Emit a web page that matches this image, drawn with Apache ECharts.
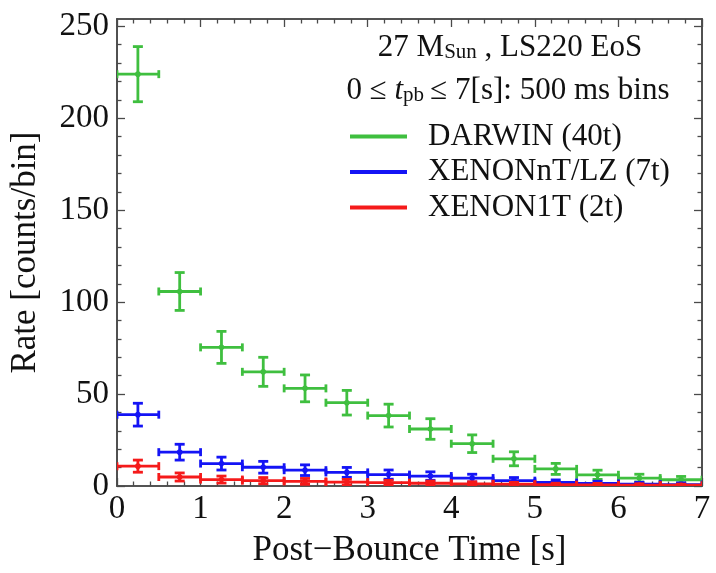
<!DOCTYPE html>
<html>
<head>
<meta charset="utf-8">
<script src="https://cdn.jsdelivr.net/npm/echarts@6/dist/echarts.min.js"></script>
<style>
html,body{margin:0;padding:0;background:#fff;}
#chart{width:716px;height:573px;}
</style>
</head>
<body>
<div id="chart"></div>
<script>
// ---- data ----
const binCenters = [0.25, 0.75, 1.25, 1.75, 2.25, 2.75, 3.25, 3.75, 4.25, 4.75, 5.25, 5.75, 6.25, 6.75];
const binHalfWidth = 0.25;
const darwin    = [224, 105.8, 75.4, 62.1, 53.1, 45.3, 38.3, 31, 23, 14.8, 9.3, 6.1, 4.3, 3.4];
const darwinErr = [15, 10.3, 8.7, 7.9, 7.3, 6.7, 6.2, 5.6, 4.8, 3.8, 3.0, 2.5, 2.1, 1.8];
const xenonnt    = [38.8, 18.4, 12.2, 10.2, 8.6, 7.4, 6.2, 5.4, 4.3, 2.9, 1.9, 1.4, 1.0, 0.8];
const xenonntErr = [6.2, 4.3, 3.5, 3.2, 2.9, 2.7, 2.5, 2.3, 2.1, 1.7, 1.4, 1.2, 1.0, 0.9];
const xenon1t    = [10.8, 4.9, 3.5, 2.9, 2.5, 2.1, 1.8, 1.5, 1.2, 1.0, 0.7, 0.6, 0.5, 0.4];
const xenon1tErr = [3.3, 2.2, 1.9, 1.7, 1.6, 1.5, 1.3, 1.2, 1.1, 1.0, 0.8, 0.8, 0.7, 0.6];
const seriesNames = ['DARWIN (40t)', 'XENONnT/LZ (7t)', 'XENON1T (2t)'];

const xMajorTicks = [0, 1, 2, 3, 4, 5, 6, 7];
const xMinorTicks = [0.2,0.4,0.6,0.8,1.2,1.4,1.6,1.8,2.2,2.4,2.6,2.8,3.2,3.4,3.6,3.8,4.2,4.4,4.6,4.8,5.2,5.4,5.6,5.8,6.2,6.4,6.6,6.8];
const yMajorTicks = [0, 50, 100, 150, 200, 250];
const yMinorTicks = [10,20,30,40,60,70,80,90,110,120,130,140,160,170,180,190,210,220,230,240];

// ---- style ----
const FONT = '"Liberation Serif", "Times New Roman", serif';
const FRAME = '#4a4a4a';
const colors = ['#3fbf3f', '#1414f5', '#f51a1a'];

function toData(vals, errs) {
  return binCenters.map((c, i) => [c, vals[i], errs[i]]);
}

function renderErrorBar(params, api) {
  const x = api.value(0), y = api.value(1), e = api.value(2);
  const pL = api.coord([x - binHalfWidth, y]);
  const pR = api.coord([x + binHalfWidth, y]);
  const pT = api.coord([x, y + e]);
  const pB = api.coord([x, y - e]);
  const pC = api.coord([x, y]);
  const col = api.visual('color');
  const st = {stroke: col, lineWidth: 2.8};
  const hc = 4, vc = 5;
  return {
    type: 'group',
    children: [
      {type: 'line', shape: {x1: pL[0], y1: pL[1], x2: pR[0], y2: pR[1]}, style: st},
      {type: 'line', shape: {x1: pT[0], y1: pT[1], x2: pB[0], y2: pB[1]}, style: st},
      {type: 'line', shape: {x1: pL[0], y1: pL[1] - hc, x2: pL[0], y2: pL[1] + hc}, style: st},
      {type: 'line', shape: {x1: pR[0], y1: pR[1] - hc, x2: pR[0], y2: pR[1] + hc}, style: st},
      {type: 'line', shape: {x1: pT[0] - vc, y1: pT[1], x2: pT[0] + vc, y2: pT[1]}, style: st},
      {type: 'line', shape: {x1: pB[0] - vc, y1: pB[1], x2: pB[0] + vc, y2: pB[1]}, style: st},
      {type: 'circle', shape: {cx: pC[0], cy: pC[1], r: 2.8}, style: {fill: col}}
    ]
  };
}

const chart = echarts.init(document.getElementById('chart'), null, {renderer: 'canvas'});

function xAx(pos, major, labels) {
  return {
    type: 'value', position: pos, min: 0, max: 7, interval: 1,
    axisLine: {show: true, onZero: false, lineStyle: {color: FRAME, width: 1.6}},
    axisTick: {show: true, inside: true, length: major ? 8 : 4.5,
      customValues: major ? xMajorTicks : xMinorTicks,
      lineStyle: {color: FRAME, width: 1.3}},
    axisLabel: {show: labels, customValues: xMajorTicks, margin: 7,
      fontFamily: FONT, fontSize: 33, color: '#111'},
    splitLine: {show: false},
    name: labels ? 'Post\u2212Bounce Time [s]' : '',
    nameLocation: 'middle', nameGap: 47,
    nameTextStyle: {fontFamily: FONT, fontSize: 35, color: '#111'}
  };
}
function yAx(pos, major, labels) {
  return {
    type: 'value', position: pos, min: 0, max: 254,
    axisLine: {show: true, onZero: false, lineStyle: {color: FRAME, width: 1.6}},
    axisTick: {show: true, inside: true, length: major ? 8 : 4.5,
      customValues: major ? yMajorTicks : yMinorTicks,
      lineStyle: {color: FRAME, width: 1.3}},
    axisLabel: {show: labels, customValues: yMajorTicks, margin: 8,
      fontFamily: FONT, fontSize: 33, color: '#111'},
    splitLine: {show: false},
    name: labels ? 'Rate [counts/bin]' : '',
    nameLocation: 'middle', nameGap: 74, nameRotate: 90,
    nameTextStyle: {fontFamily: FONT, fontSize: 35, color: '#111'}
  };
}

const option = {
  backgroundColor: '#ffffff',
  animation: false,
  grid: {left: 116, right: 14, top: 19, bottom: 86, containLabel: false},
  xAxis: [xAx('bottom', true, true), xAx('bottom', false, false), xAx('top', true, false), xAx('top', false, false)],
  yAxis: [yAx('left', true, true), yAx('left', false, false), yAx('right', true, false), yAx('right', false, false)],
  legend: {
    orient: 'vertical', left: 345, top: 116,
    itemWidth: 57, itemHeight: 4, itemGap: 4.5,
    icon: 'rect', selectedMode: false,
    data: seriesNames,
    textStyle: {fontFamily: FONT, fontSize: 31, lineHeight: 31, color: '#111', padding: [0, 0, 0, 16]}
  },
  graphic: [
    {type: 'text', x: 510, y: 47, style: {
      text: '{n|27 M}{s|Sun}{n| , LS220 EoS}',
      align: 'center', verticalAlign: 'middle',
      rich: {
        n: {fontFamily: FONT, fontSize: 31, lineHeight: 32, fill: '#111', verticalAlign: 'bottom'},
        s: {fontFamily: FONT, fontSize: 21, fill: '#111', verticalAlign: 'bottom'}
      }}},
    {type: 'text', x: 508, y: 90, style: {
      text: '{n|0 \u2264 }{i|t}{s|pb}{n|\u2009\u2264 7[s]: 500 ms bins}',
      align: 'center', verticalAlign: 'middle',
      rich: {
        n: {fontFamily: FONT, fontSize: 31, lineHeight: 32, fill: '#111', verticalAlign: 'bottom'},
        i: {fontFamily: FONT, fontSize: 31, lineHeight: 32, fontStyle: 'italic', fill: '#111', verticalAlign: 'bottom'},
        s: {fontFamily: FONT, fontSize: 21, fill: '#111', verticalAlign: 'bottom'}
      }}}
  ],
  series: [
    {name: seriesNames[0], type: 'custom', renderItem: renderErrorBar, clip: true,
      itemStyle: {color: colors[0]}, encode: {x: 0, y: 1}, data: toData(darwin, darwinErr)},
    {name: seriesNames[1], type: 'custom', renderItem: renderErrorBar, clip: true,
      itemStyle: {color: colors[1]}, encode: {x: 0, y: 1}, data: toData(xenonnt, xenonntErr)},
    {name: seriesNames[2], type: 'custom', renderItem: renderErrorBar, clip: true,
      itemStyle: {color: colors[2]}, encode: {x: 0, y: 1}, data: toData(xenon1t, xenon1tErr)}
  ]
};
chart.setOption(option);
</script>
</body>
</html>
